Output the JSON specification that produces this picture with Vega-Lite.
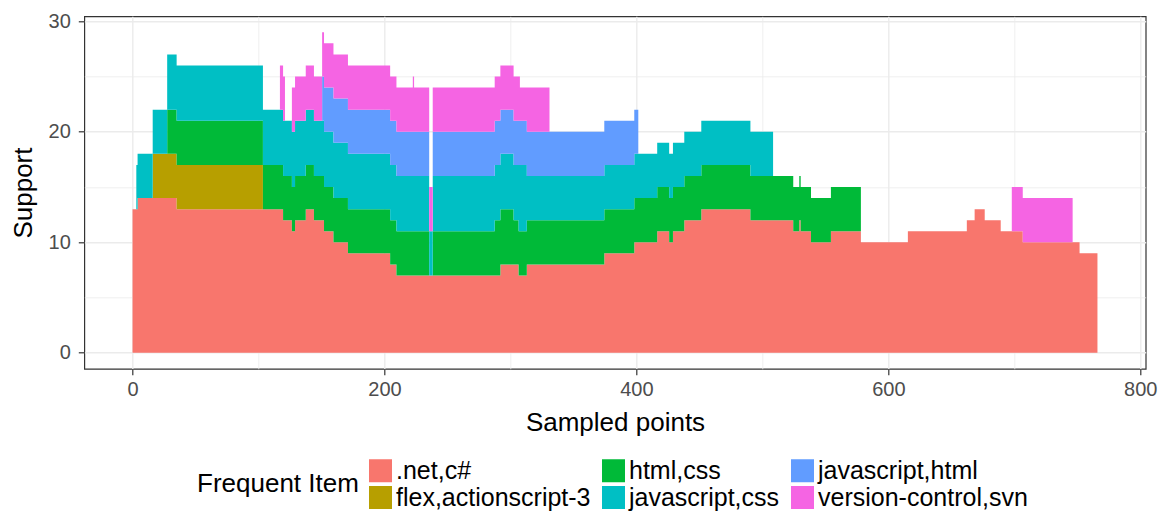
{
  "$schema": "https://vega.github.io/schema/vega-lite/v6.json",
  "width": 1061.4,
  "height": 352.5,
  "autosize": {"type": "none"},
  "padding": {"left": 84.3, "top": 16.3, "right": 25.3, "bottom": 145.2},
  "background": "white",
  "config": {
    "font": "Liberation Sans",
    "view": {"stroke": "#333333", "strokeWidth": 1.2}
  },
  "datasets": {
    "names": [
      {"key": "net", "item": ".net,c#"},
      {"key": "flex", "item": "flex,actionscript-3"},
      {"key": "html", "item": "html,css"},
      {"key": "jscss", "item": "javascript,css"},
      {"key": "jshtml", "item": "javascript,html"},
      {"key": "vcs", "item": "version-control,svn"}
    ],
    "series": [
      {"x": 0, "net": 13, "flex": 0, "html": 0, "jscss": 0, "jshtml": 0, "vcs": 0},
      {"x": 3, "net": 13, "flex": 0, "html": 0, "jscss": 4, "jshtml": 0, "vcs": 0},
      {"x": 4, "net": 14, "flex": 0, "html": 0, "jscss": 4, "jshtml": 0, "vcs": 0},
      {"x": 16, "net": 14, "flex": 4, "html": 0, "jscss": 4, "jshtml": 0, "vcs": 0},
      {"x": 27.5, "net": 14, "flex": 4, "html": 4, "jscss": 5, "jshtml": 0, "vcs": 0},
      {"x": 35, "net": 13, "flex": 4, "html": 4, "jscss": 5, "jshtml": 0, "vcs": 0},
      {"x": 103.5, "net": 13, "flex": 0, "html": 4, "jscss": 5, "jshtml": 0, "vcs": 0},
      {"x": 117, "net": 13, "flex": 0, "html": 4, "jscss": 5, "jshtml": 0, "vcs": 4},
      {"x": 119.5, "net": 12, "flex": 0, "html": 4, "jscss": 5, "jshtml": 0, "vcs": 4},
      {"x": 121, "net": 12, "flex": 0, "html": 4, "jscss": 5, "jshtml": 0, "vcs": 0},
      {"x": 126.5, "net": 11, "flex": 0, "html": 4, "jscss": 5, "jshtml": 0, "vcs": 4},
      {"x": 129, "net": 12, "flex": 0, "html": 4, "jscss": 5, "jshtml": 0, "vcs": 4},
      {"x": 137.5, "net": 13, "flex": 0, "html": 4, "jscss": 5, "jshtml": 0, "vcs": 4},
      {"x": 144, "net": 12, "flex": 0, "html": 4, "jscss": 5, "jshtml": 0, "vcs": 4},
      {"x": 150.5, "net": 12, "flex": 0, "html": 4, "jscss": 5, "jshtml": 4, "vcs": 4},
      {"x": 152, "net": 11, "flex": 0, "html": 4, "jscss": 5, "jshtml": 4, "vcs": 4},
      {"x": 159.5, "net": 10, "flex": 0, "html": 4, "jscss": 5, "jshtml": 4, "vcs": 4},
      {"x": 171, "net": 9, "flex": 0, "html": 4, "jscss": 5, "jshtml": 4, "vcs": 4},
      {"x": 204.5, "net": 8, "flex": 0, "html": 4, "jscss": 5, "jshtml": 4, "vcs": 4},
      {"x": 209.5, "net": 7, "flex": 0, "html": 4, "jscss": 5, "jshtml": 4, "vcs": 4},
      {"x": 222.5, "net": 7, "flex": 0, "html": 4, "jscss": 5, "jshtml": 4, "vcs": 5},
      {"x": 223.5, "net": 7, "flex": 0, "html": 4, "jscss": 5, "jshtml": 4, "vcs": 4},
      {"x": 235.5, "net": 7, "flex": 0, "html": 0, "jscss": 4, "jshtml": 0, "vcs": 4},
      {"x": 238.3, "net": 7, "flex": 0, "html": 4, "jscss": 5, "jshtml": 4, "vcs": 4},
      {"x": 287.5, "net": 7, "flex": 0, "html": 5, "jscss": 5, "jshtml": 4, "vcs": 4},
      {"x": 292, "net": 8, "flex": 0, "html": 5, "jscss": 5, "jshtml": 4, "vcs": 4},
      {"x": 302.5, "net": 8, "flex": 0, "html": 4, "jscss": 5, "jshtml": 4, "vcs": 4},
      {"x": 306.5, "net": 7, "flex": 0, "html": 4, "jscss": 6, "jshtml": 4, "vcs": 4},
      {"x": 307.5, "net": 7, "flex": 0, "html": 4, "jscss": 6, "jshtml": 4, "vcs": 3},
      {"x": 313, "net": 8, "flex": 0, "html": 4, "jscss": 4, "jshtml": 4, "vcs": 4},
      {"x": 331, "net": 8, "flex": 0, "html": 4, "jscss": 4, "jshtml": 4, "vcs": 0},
      {"x": 374.5, "net": 9, "flex": 0, "html": 4, "jscss": 4, "jshtml": 4, "vcs": 0},
      {"x": 398.3, "net": 10, "flex": 0, "html": 4, "jscss": 4, "jshtml": 4, "vcs": 0},
      {"x": 401.5, "net": 10, "flex": 0, "html": 4, "jscss": 4, "jshtml": 0, "vcs": 0},
      {"x": 416.5, "net": 11, "flex": 0, "html": 4, "jscss": 4, "jshtml": 0, "vcs": 0},
      {"x": 426, "net": 10, "flex": 0, "html": 4, "jscss": 4, "jshtml": 0, "vcs": 0},
      {"x": 429, "net": 11, "flex": 0, "html": 4, "jscss": 4, "jshtml": 0, "vcs": 0},
      {"x": 438, "net": 12, "flex": 0, "html": 4, "jscss": 4, "jshtml": 0, "vcs": 0},
      {"x": 451.5, "net": 13, "flex": 0, "html": 4, "jscss": 4, "jshtml": 0, "vcs": 0},
      {"x": 490.5, "net": 12, "flex": 0, "html": 4, "jscss": 4, "jshtml": 0, "vcs": 0},
      {"x": 508.5, "net": 12, "flex": 0, "html": 4, "jscss": 0, "jshtml": 0, "vcs": 0},
      {"x": 524.5, "net": 11, "flex": 0, "html": 4, "jscss": 0, "jshtml": 0, "vcs": 0},
      {"x": 529.3, "net": 12, "flex": 0, "html": 4, "jscss": 0, "jshtml": 0, "vcs": 0},
      {"x": 530.4, "net": 11, "flex": 0, "html": 4, "jscss": 0, "jshtml": 0, "vcs": 0},
      {"x": 538.6, "net": 10, "flex": 0, "html": 4, "jscss": 0, "jshtml": 0, "vcs": 0},
      {"x": 554.4, "net": 11, "flex": 0, "html": 4, "jscss": 0, "jshtml": 0, "vcs": 0},
      {"x": 578.2, "net": 10, "flex": 0, "html": 0, "jscss": 0, "jshtml": 0, "vcs": 0},
      {"x": 615.5, "net": 11, "flex": 0, "html": 0, "jscss": 0, "jshtml": 0, "vcs": 0},
      {"x": 662.3, "net": 12, "flex": 0, "html": 0, "jscss": 0, "jshtml": 0, "vcs": 0},
      {"x": 668.5, "net": 13, "flex": 0, "html": 0, "jscss": 0, "jshtml": 0, "vcs": 0},
      {"x": 676.5, "net": 12, "flex": 0, "html": 0, "jscss": 0, "jshtml": 0, "vcs": 0},
      {"x": 689.2, "net": 11, "flex": 0, "html": 0, "jscss": 0, "jshtml": 0, "vcs": 0},
      {"x": 698, "net": 11, "flex": 0, "html": 0, "jscss": 0, "jshtml": 0, "vcs": 4},
      {"x": 706.7, "net": 10, "flex": 0, "html": 0, "jscss": 0, "jshtml": 0, "vcs": 4},
      {"x": 746.3, "net": 10, "flex": 0, "html": 0, "jscss": 0, "jshtml": 0, "vcs": 0},
      {"x": 751.8, "net": 9, "flex": 0, "html": 0, "jscss": 0, "jshtml": 0, "vcs": 0},
      {"x": 766, "net": 9, "flex": 0, "html": 0, "jscss": 0, "jshtml": 0, "vcs": 0}
    ]
  },
  "data": {"name": "series"},
  "transform": [
    {"fold": ["net", "flex", "html", "jscss", "jshtml", "vcs"], "as": ["key", "support"]},
    {"lookup": "key", "from": {"data": {"name": "names"}, "key": "key", "fields": ["item"]}}
  ],
  "mark": {"type": "area", "interpolate": "step-after"},
  "encoding": {
    "x": {
      "field": "x",
      "type": "quantitative",
      "scale": {"domain": [-38.3, 804.3], "nice": false, "zero": false},
      "axis": {
        "values": [0, 100, 200, 300, 400, 500, 600, 700, 800],
        "labelExpr": "datum.value % 200 === 0 ? datum.label : ''",
        "domain": false,
        "grid": true,
        "gridColor": "#EBEBEB",
        "gridWidth": {"condition": {"test": "datum.value % 200 === 0", "value": 1.4}, "value": 0.8},
        "tickColor": {"condition": {"test": "datum.value % 200 === 0", "value": "#333333"}, "value": "transparent"},
        "tickSize": 6,
        "tickWidth": 1.2,
        "labelFontSize": 20,
        "labelColor": "#4D4D4D",
        "labelPadding": 5,
        "labelFlush": false,
        "labelOverlap": false,
        "title": "Sampled points",
        "titleFontSize": 26,
        "titleFontWeight": "normal",
        "titleColor": "black",
        "titlePadding": 10
      }
    },
    "y": {
      "field": "support",
      "type": "quantitative",
      "stack": "zero",
      "scale": {"domain": [-1.45, 30.45], "nice": false, "zero": false},
      "axis": {
        "values": [0, 5, 10, 15, 20, 25, 30],
        "labelExpr": "datum.value % 10 === 0 ? datum.label : ''",
        "domain": false,
        "grid": true,
        "gridColor": "#EBEBEB",
        "gridWidth": {"condition": {"test": "datum.value % 10 === 0", "value": 1.4}, "value": 0.8},
        "tickColor": {"condition": {"test": "datum.value % 10 === 0", "value": "#333333"}, "value": "transparent"},
        "tickSize": 6,
        "tickWidth": 1.2,
        "labelFontSize": 20,
        "labelColor": "#4D4D4D",
        "labelPadding": 8,
        "labelOverlap": false,
        "title": "Support",
        "titleFontSize": 26,
        "titleFontWeight": "normal",
        "titleColor": "black",
        "titlePadding": 12
      }
    },
    "color": {
      "field": "item",
      "type": "nominal",
      "scale": {
        "domain": [".net,c#", "flex,actionscript-3", "html,css", "javascript,css", "javascript,html", "version-control,svn"],
        "range": ["#F8766D", "#B79F00", "#00BA38", "#00BFC4", "#619CFF", "#F564E3"]
      },
      "legend": {
        "orient": "none",
        "legendX": 112.7,
        "legendY": 441.7,
        "columns": 3,
        "title": "Frequent Item",
        "titleOrient": "left",
        "titleAnchor": "middle",
        "titleBaseline": "middle",
        "titleFontSize": 26,
        "titleFontWeight": "normal",
        "titleColor": "black",
        "titlePadding": 9,
        "symbolType": "square",
        "symbolSize": 529,
        "symbolStrokeWidth": 0,
        "symbolOpacity": 1,
        "labelFontSize": 25,
        "labelColor": "black",
        "labelOffset": 3,
        "labelLimit": 400,
        "rowPadding": 1,
        "columnPadding": 10,
        "padding": 0
      }
    },
    "order": {"field": "item", "sort": "ascending"}
  }
}
